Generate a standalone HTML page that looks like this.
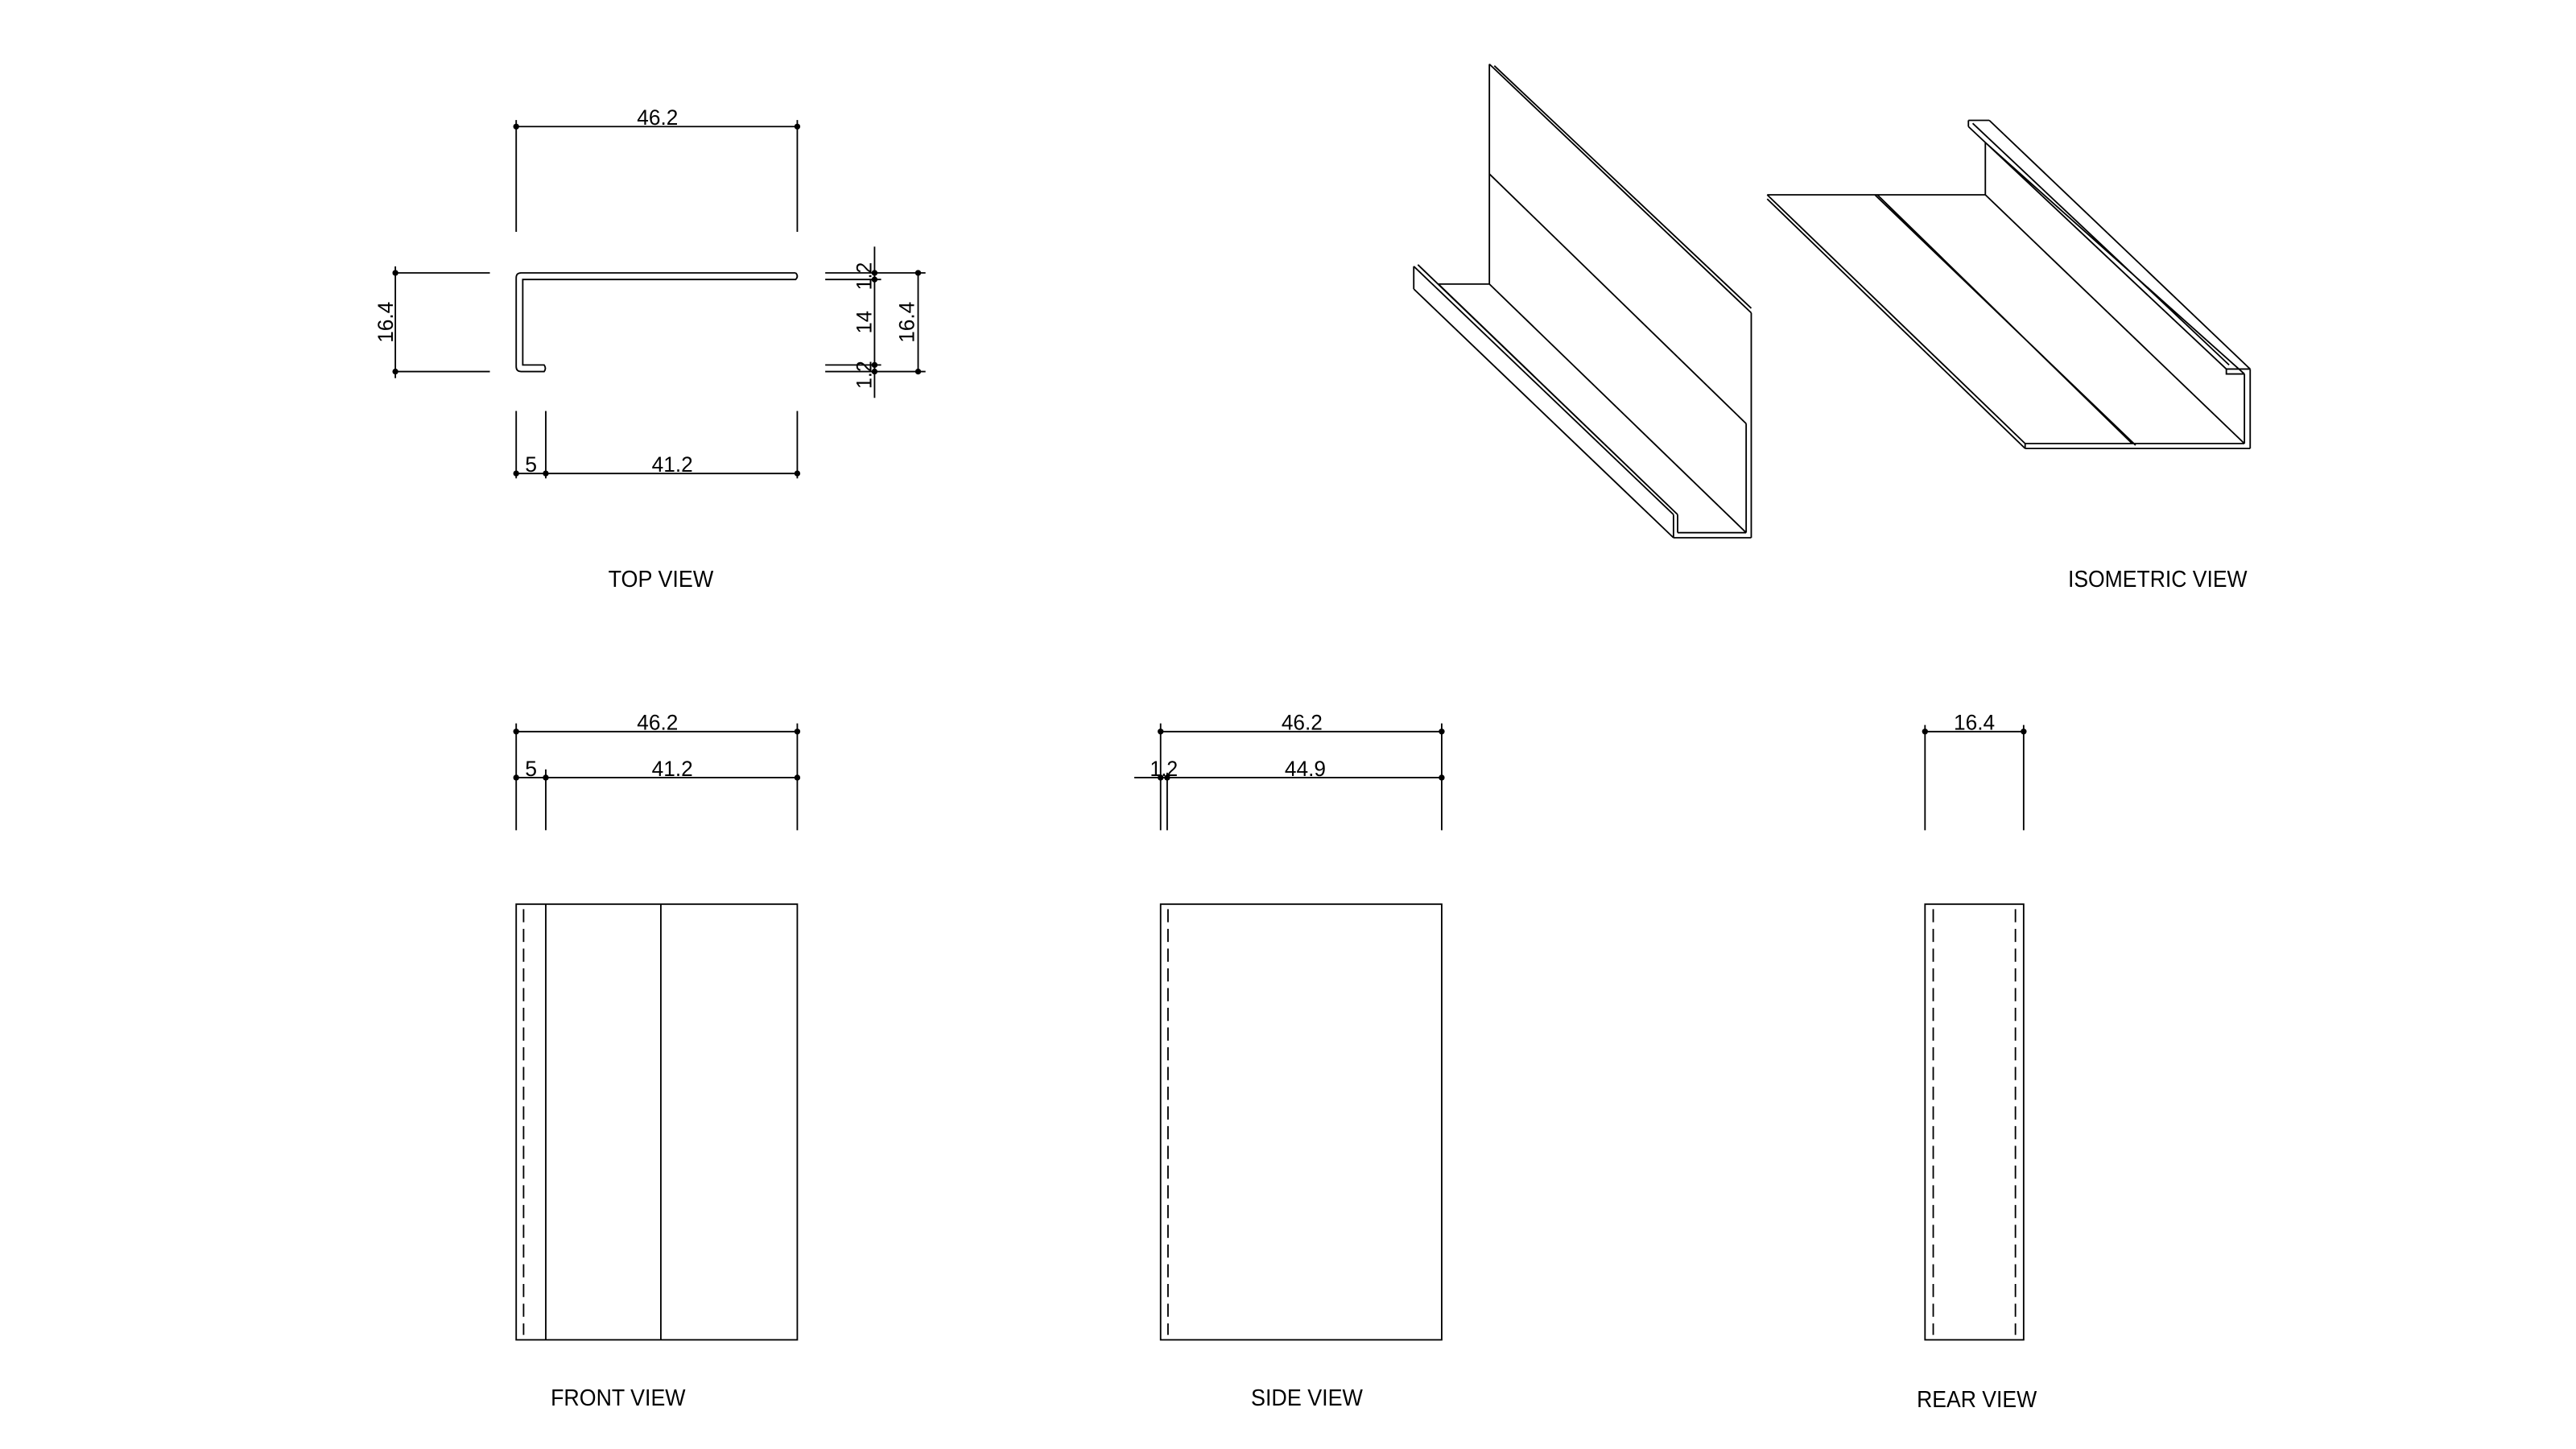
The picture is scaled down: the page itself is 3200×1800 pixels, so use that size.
<!DOCTYPE html>
<html><head><meta charset="utf-8"><style>
html,body{margin:0;padding:0;background:#fff;}
svg{display:block;}
text{font-family:"Liberation Sans",sans-serif;fill:#000;}
</style></head><body>
<svg width="3200" height="1800" viewBox="0 0 1567 881.4" preserveAspectRatio="none" xmlns="http://www.w3.org/2000/svg">
<g stroke="#000" stroke-width="0.9" fill="none">
<!-- TOP VIEW -->
<line x1="314" y1="77" x2="485" y2="77"/>
<line x1="314" y1="73" x2="314" y2="141"/>
<line x1="485" y1="73" x2="485" y2="141"/>
<path d="M484 166 L317 166 Q314 166 314 169 L314 223 Q314 226 317 226 L331 226 Q332.5 224 331 222 L318 222 L318 170 L484 170 Q486 168 484 166"/>
<line x1="240" y1="166" x2="298" y2="166"/>
<line x1="240" y1="226" x2="298" y2="226"/>
<line x1="240.5" y1="162" x2="240.5" y2="230"/>
<line x1="502" y1="166" x2="563" y2="166"/>
<line x1="502" y1="170" x2="536" y2="170"/>
<line x1="502" y1="222" x2="536" y2="222"/>
<line x1="502" y1="226" x2="563" y2="226"/>
<line x1="532" y1="150" x2="532" y2="242"/>
<line x1="558.5" y1="166" x2="558.5" y2="226"/>
<line x1="314" y1="250" x2="314" y2="291"/>
<line x1="332" y1="250" x2="332" y2="291"/>
<line x1="485" y1="250" x2="485" y2="291"/>
<line x1="314" y1="288" x2="485" y2="288"/>
<!-- ISO LEFT -->
<path d="M906 39 L906 172.8 M906 39 L1065.3 190.3 M909 40 L1065.3 187.5 M906 105.8 L1062.2 257.7 M1065.3 190.3 L1065.3 327.1 M1062.2 257.7 L1062.2 324 M1018 327.1 L1065.3 327.1 M1020.5 324 L1062.2 324 M1018 313 L1018 327.1 M1020.5 313 L1020.5 324 M875 172.8 L906 172.8 M906 172.8 L1062.2 324 M860 162 L1018 313 M862.5 161 L1020.5 313 M860 162 L860 175.8 M860 175.8 L1018 327.1 M875 172.8 L1020.5 313"/>
<!-- ISO RIGHT -->
<path d="M1197.4 73.2 L1210.1 73.2 M1210.1 73.2 L1368.8 224.5 M1197.4 73.2 L1197.4 77 M1197.4 77 L1354.3 224.5 M1200 75 L1356 222 M1207.7 86.7 L1365.3 227.5 M1207.7 86.7 L1207.7 118.5 M1354.3 224.5 L1354.3 227.5 L1365.3 227.5 M1354.3 224.5 L1368.8 224.5 M1075 118.5 L1207.7 118.5 M1075 118.5 L1231.9 269.8 M1075 121 L1231.9 272.8 M1140.5 118.5 L1299.1 270.8 M1142 118.5 L1297 269.8 M1207.7 118.5 L1365.3 269.8 M1231.9 269.8 L1365.3 269.8 M1231.9 272.8 L1368.8 272.8 M1231.9 269.8 L1231.9 272.8 M1368.8 224.5 L1368.8 272.8 M1365.3 227.5 L1365.3 269.8"/>
<!-- FRONT VIEW -->
<line x1="314" y1="445" x2="485" y2="445"/>
<line x1="314" y1="473" x2="485" y2="473"/>
<line x1="314" y1="440" x2="314" y2="505"/>
<line x1="485" y1="440" x2="485" y2="505"/>
<line x1="332" y1="468" x2="332" y2="505"/>
<rect x="314" y="550" width="171" height="265"/>
<line x1="332" y1="550" x2="332" y2="815"/>
<line x1="402" y1="550" x2="402" y2="815"/>
<line x1="318.5" y1="553" x2="318.5" y2="812" stroke-dasharray="8 4"/>
<!-- SIDE VIEW -->
<line x1="706" y1="445" x2="877" y2="445"/>
<line x1="690" y1="473" x2="877" y2="473"/>
<line x1="706" y1="440" x2="706" y2="505"/>
<line x1="710" y1="470" x2="710" y2="505"/>
<line x1="877" y1="440" x2="877" y2="505"/>
<rect x="706" y="550" width="171" height="265"/>
<line x1="710.5" y1="553" x2="710.5" y2="812" stroke-dasharray="8 4"/>
<!-- REAR VIEW -->
<line x1="1171" y1="445" x2="1231" y2="445"/>
<line x1="1171" y1="441" x2="1171" y2="505"/>
<line x1="1231" y1="441" x2="1231" y2="505"/>
<rect x="1171" y="550" width="60" height="265"/>
<line x1="1176" y1="553" x2="1176" y2="812" stroke-dasharray="8 4"/>
<line x1="1226" y1="553" x2="1226" y2="812" stroke-dasharray="8 4"/>
</g>
<g fill="#000">
<circle cx="314" cy="77" r="1.8"/><circle cx="485" cy="77" r="1.8"/>
<circle cx="240.5" cy="166" r="1.8"/><circle cx="240.5" cy="226" r="1.8"/>
<circle cx="532" cy="166" r="1.8"/><circle cx="532" cy="170" r="1.8"/><circle cx="532" cy="222" r="1.8"/><circle cx="532" cy="226" r="1.8"/>
<circle cx="558.5" cy="166" r="1.8"/><circle cx="558.5" cy="226" r="1.8"/>
<circle cx="314" cy="288" r="1.8"/><circle cx="332" cy="288" r="1.8"/><circle cx="485" cy="288" r="1.8"/>
<circle cx="314" cy="445" r="1.8"/><circle cx="485" cy="445" r="1.8"/>
<circle cx="314" cy="473" r="1.8"/><circle cx="332" cy="473" r="1.8"/><circle cx="485" cy="473" r="1.8"/>
<circle cx="706" cy="445" r="1.8"/><circle cx="877" cy="445" r="1.8"/>
<circle cx="706" cy="473" r="1.8"/><circle cx="710" cy="473" r="1.8"/><circle cx="877" cy="473" r="1.8"/>
<circle cx="1171" cy="445" r="1.8"/><circle cx="1231" cy="445" r="1.8"/>
</g>
<g font-size="13" text-anchor="middle">
<text x="400" y="76" textLength="25" lengthAdjust="spacingAndGlyphs">46.2</text>
<text x="323" y="287">5</text>
<text x="409" y="287" textLength="25" lengthAdjust="spacingAndGlyphs">41.2</text>
<text transform="translate(239,196) rotate(-90)" textLength="25" lengthAdjust="spacingAndGlyphs">16.4</text>
<text transform="translate(530,168) rotate(-90)" textLength="17" lengthAdjust="spacingAndGlyphs">1.2</text>
<text transform="translate(530,196) rotate(-90)" textLength="14" lengthAdjust="spacingAndGlyphs">14</text>
<text transform="translate(530,228) rotate(-90)" textLength="17" lengthAdjust="spacingAndGlyphs">1.2</text>
<text transform="translate(556,196) rotate(-90)" textLength="25" lengthAdjust="spacingAndGlyphs">16.4</text>
<text x="400" y="444" textLength="25" lengthAdjust="spacingAndGlyphs">46.2</text>
<text x="323" y="472">5</text>
<text x="409" y="472" textLength="25" lengthAdjust="spacingAndGlyphs">41.2</text>
<text x="792" y="444" textLength="25" lengthAdjust="spacingAndGlyphs">46.2</text>
<text x="708" y="472" textLength="17" lengthAdjust="spacingAndGlyphs">1.2</text>
<text x="794" y="472" textLength="25" lengthAdjust="spacingAndGlyphs">44.9</text>
<text x="1201" y="444" textLength="25" lengthAdjust="spacingAndGlyphs">16.4</text>
</g>
<g font-size="14" text-anchor="middle">
<text x="402" y="357" textLength="64" lengthAdjust="spacingAndGlyphs">TOP VIEW</text>
<text x="1312.5" y="357" textLength="109" lengthAdjust="spacingAndGlyphs">ISOMETRIC VIEW</text>
<text x="376" y="855" textLength="82" lengthAdjust="spacingAndGlyphs">FRONT VIEW</text>
<text x="795" y="855" textLength="68" lengthAdjust="spacingAndGlyphs">SIDE VIEW</text>
<text x="1202.5" y="856" textLength="73" lengthAdjust="spacingAndGlyphs">REAR VIEW</text>
</g>
</svg>
</body></html>
